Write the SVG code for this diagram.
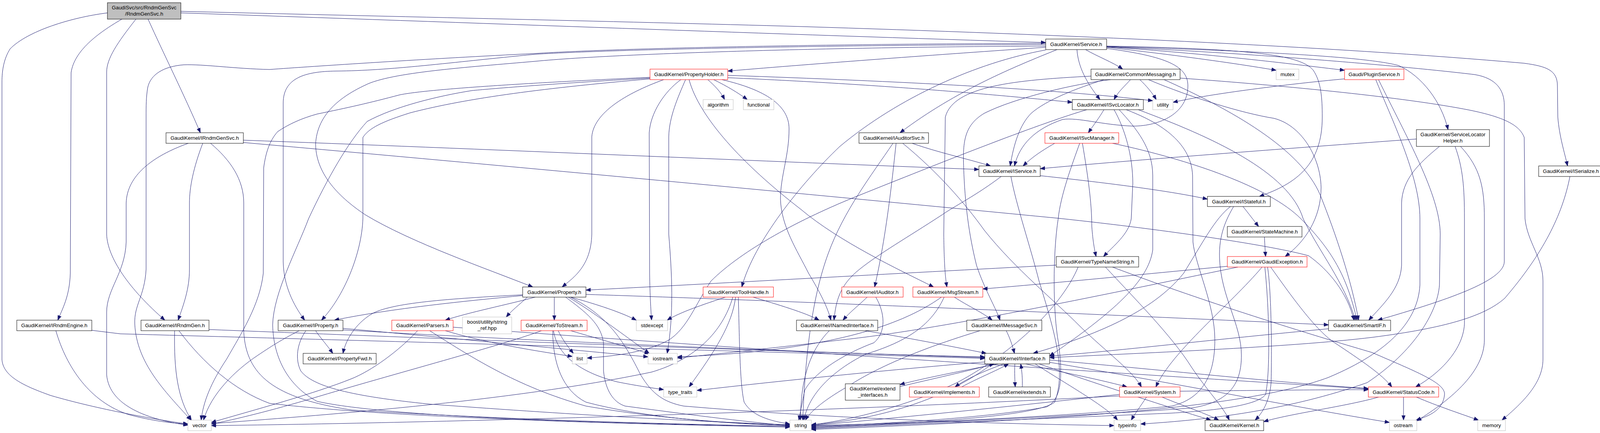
<svg xmlns="http://www.w3.org/2000/svg" width="4109" height="1109" viewBox="0 0 4109 1109">
<defs>
<style>
.e{fill:none;stroke:#191970;stroke-width:1;marker-end:url(#ah)}
.b{fill:#fff;stroke:#000;stroke-width:1}
.r{fill:#fff;stroke:#f00;stroke-width:1}
.s{fill:#fff;stroke:#bfbfbf;stroke-width:1}
.m{fill:#bfbfbf;stroke:#000;stroke-width:1}
text{font-family:"Liberation Sans",Arial,Helvetica,sans-serif;font-size:13.3px;text-anchor:middle;fill:#000}
</style>
<marker id="ah" viewBox="0 0 12 10" refX="12" refY="5" markerWidth="12" markerHeight="10" markerUnits="userSpaceOnUse" orient="auto">
<path d="M0,0.5 L12,5 L0,9.5 z" fill="#191970" stroke="#191970" stroke-width="1"/>
</marker>
</defs>
<rect width="4109" height="1109" fill="#fff"/>
<g id="edges">
<path class="e" d="M463,33 C1200,58 2000,88 2677,109"/>
<path class="e" d="M463,29 C900,40 1600,55 2050,68 C2700,88 3400,118 3902,162 C3960,170 3987,180 3987,220 L3988,300 C3992,350 4005,390 4013,425"/>
<path class="e" d="M275,33 C180,45 70,80 26,125 C10,150 5,180 5,210 L5,921 C8,960 50,985 130,1013 C250,1048 400,1075 481,1086"/>
<path class="e" d="M312,49 C250,85 190,130 182,186 L180,700 C178,760 160,790 148,820"/>
<path class="e" d="M348,49 C300,110 273,150 273,185 L273,600 C275,660 330,740 422,820"/>
<path class="e" d="M379,49 C420,140 470,240 513,340"/>
<path class="e" d="M482,367 C390,400 325,450 323,520 L323,620 C320,700 273,740 273,800 L273,960 C280,1040 380,1075 481,1089"/>
<path class="e" d="M519,367 C495,430 485,480 485,520 L485,690 C485,740 470,780 456,820"/>
<path class="e" d="M539,367 C590,410 624,460 624,520 L624,850 C630,960 700,1020 900,1050 C1300,1075 1700,1086 2022,1092"/>
<path class="e" d="M623,359 C1200,380 2000,415 2506,434"/>
<path class="e" d="M623,365 C1300,425 2100,500 2709,559 C3000,590 3260,630 3350,655 C3400,690 3450,750 3466,820"/>
<path class="e" d="M143,847 C170,940 230,1030 330,1062 C390,1078 440,1084 481,1086"/>
<path class="e" d="M235,846 L308,855 C1200,880 2100,905 2521,918"/>
<path class="e" d="M447,847 C445,950 455,1020 490,1076"/>
<path class="e" d="M458,847 C520,930 600,1000 690,1033 C1000,1070 1600,1086 2022,1094"/>
<path class="e" d="M535,844 C1200,870 2100,905 2521,914"/>
<path class="e" d="M2677,121 C2400,140 2100,162 1863,182"/>
<path class="e" d="M2677,118 C2200,120 1600,135 1370,157 C1200,172 1000,185 935,218 C860,253 812,300 808,368 C808,440 860,500 935,550 C1050,620 1250,690 1364,735"/>
<path class="e" d="M2677,114 C2200,115 1600,125 1370,139 C1150,160 1000,181 860,182 C780,183 725,200 725,264 L725,670 C726,730 750,780 780,820"/>
<path class="e" d="M2677,111 C2200,112 1600,122 1370,137 C1100,150 800,170 690,178 C600,176 520,164 470,166 C420,170 385,190 378,225 C374,250 374,270 374,300 L374,690 C370,760 343,780 345,830 C350,930 420,1000 489,1076"/>
<path class="e" d="M2779,127 C2810,145 2850,160 2874,177"/>
<path class="e" d="M2757,127 C2760,170 2780,210 2816,255"/>
<path class="e" d="M2833,121 C3000,140 3150,160 3267,180"/>
<path class="e" d="M2833,118 C3200,125 3330,140 3362,180 C3382,210 3385,250 3385,300 C3385,420 3320,470 3224,503"/>
<path class="e" d="M2833,124 C2990,145 3041,170 3041,220 C3041,290 2970,323 2900,323 C2820,320 2760,300 2720,306 C2650,330 2610,370 2597,425"/>
<path class="e" d="M2833,120 C3100,138 3300,163 3442,180"/>
<path class="e" d="M2833,119 C3200,130 3500,145 3581,168 C3640,195 3690,260 3707,332"/>
<path class="e" d="M2833,120 C3200,135 3600,170 3775,191 C3830,200 3851,230 3851,270 L3851,670 C3851,720 3700,770 3527,820"/>
<path class="e" d="M2706,127 C2600,170 2450,230 2304,340"/>
<path class="e" d="M2677,128 C2500,160 2300,250 2150,375 C2050,470 1930,620 1899,735"/>
<path class="e" d="M2894,204 C2880,220 2862,235 2852,255"/>
<path class="e" d="M2918,204 C2935,220 2950,238 2960,255"/>
<path class="e" d="M2793,195 C2600,205 2440,220 2420,300 L2416,600 C2417,680 2420,710 2424,735"/>
<path class="e" d="M2843,204 C2750,215 2600,250 2520,290 C2470,320 2464,360 2467,430 C2470,520 2480,600 2500,680 C2520,740 2550,790 2560,820"/>
<path class="e" d="M2826,204 C2760,225 2680,255 2640,290 C2610,320 2595,370 2586,425"/>
<path class="e" d="M3021,200 C3300,220 3600,250 3762,282 C3850,300 3890,320 3902,352 L3904,560 C3910,620 3950,660 3950,720 L3950,920 C3950,980 3900,1030 3845,1076"/>
<path class="e" d="M2940,204 C3050,250 3180,290 3261,303 C3330,320 3380,400 3382,480 C3382,560 3340,620 3290,657"/>
<path class="e" d="M2980,204 C3150,280 3330,380 3380,500 C3420,600 3460,720 3478,820"/>
<path class="e" d="M2826,281 C2815,300 2800,320 2786,340"/>
<path class="e" d="M2782,281 C2650,320 2400,420 2200,500 C2050,560 1900,640 1820,720 C1780,780 1760,840 1712,871 C1660,900 1580,912 1503,917"/>
<path class="e" d="M2852,281 C2880,330 2900,400 2900,470 L2896,560 C2890,600 2850,630 2825,657"/>
<path class="e" d="M2883,281 C2960,310 3050,360 3053,450 L3054,620 C3060,680 3110,780 3110,870 C3110,960 3080,1020 3000,1040 C2700,1070 2300,1085 2077,1090"/>
<path class="e" d="M2914,281 C3100,350 3300,440 3336,560 C3380,650 3440,720 3470,820"/>
<path class="e" d="M2865,281 C2910,330 2951,380 2951,450 L2951,640 C2940,720 2850,800 2687,912"/>
<path class="e" d="M2700,367 C2660,390 2640,405 2619,425"/>
<path class="e" d="M2771,367 C2785,450 2795,520 2795,580 C2798,620 2802,640 2806,657"/>
<path class="e" d="M2848,367 C3050,410 3250,480 3330,560 C3420,650 3450,720 3474,820"/>
<path class="e" d="M2764,367 C2745,420 2715,500 2709,560 C2695,650 2695,800 2710,880 C2720,960 2720,1020 2680,1042 C2500,1075 2200,1088 2077,1092"/>
<path class="e" d="M2335,367 C2400,390 2470,405 2536,425"/>
<path class="e" d="M2294,367 C2285,450 2270,600 2239,735"/>
<path class="e" d="M2286,367 C2230,450 2160,540 2120,650 C2080,760 2062,900 2055,1076"/>
<path class="e" d="M2311,367 C2400,440 2470,520 2520,590 C2600,690 2700,770 2764,835 C2830,900 2900,950 2922,991"/>
<path class="e" d="M2663,450 C2850,470 3000,490 3091,510"/>
<path class="e" d="M2563,452 C2500,500 2440,530 2412,550 C2320,610 2250,650 2200,690 C2150,730 2140,770 2135,820"/>
<path class="e" d="M2588,452 C2600,520 2640,640 2660,720 C2700,850 2730,950 2700,1030 C2650,1070 2300,1086 2077,1094"/>
<path class="e" d="M3182,529 C3195,545 3210,565 3222,580"/>
<path class="e" d="M3150,529 C3110,560 3080,620 3030,700 C2950,800 2800,860 2645,905"/>
<path class="e" d="M3158,529 C3140,560 3120,600 3122,660 C3125,760 3178,830 3178,910 C3178,980 3150,1030 3050,1045 C2700,1070 2300,1085 2077,1096"/>
<path class="e" d="M3237,607 C3238,630 3239,645 3240,657"/>
<path class="e" d="M2704,679 C2300,700 1800,728 1500,743"/>
<path class="e" d="M2830,684 C2900,760 3000,860 3050,940 C3090,1000 3130,1040 3147,1076"/>
<path class="e" d="M2848,684 C3100,780 3400,870 3513,903 C3620,950 3700,980 3698,1010 C3695,1050 3660,1065 3625,1076"/>
<path class="e" d="M2760,684 C2720,780 2600,900 2450,980 C2300,1050 2150,1080 2077,1088"/>
<path class="e" d="M3231,684 C3150,780 3000,900 2959,991"/>
<path class="e" d="M3245,684 C3255,750 3256,900 3254,980 C3250,1030 3230,1060 3213,1076"/>
<path class="e" d="M3253,684 C3300,750 3370,850 3420,880 C3480,920 3540,960 3563,991"/>
<path class="e" d="M3142,682 C2900,705 2700,725 2516,740"/>
<path class="e" d="M3169,684 C2800,760 2400,845 2150,871 C1950,895 1800,910 1734,917"/>
<path class="e" d="M3238,684 C3250,800 3252,950 3240,1010 C3220,1040 3100,1052 3000,1058 C2600,1075 2300,1088 2077,1098"/>
<path class="e" d="M1857,761 C1800,780 1740,800 1708,820"/>
<path class="e" d="M1883,761 C1875,830 1830,900 1764,991"/>
<path class="e" d="M1890,761 C1893,850 1893,980 1905,1030 C1925,1065 1970,1078 2022,1086"/>
<path class="e" d="M1928,761 C1990,780 2060,800 2097,820"/>
<path class="e" d="M1876,761 C1850,850 1780,920 1668,953 C1300,1030 800,1065 541,1085"/>
<path class="e" d="M1419,761 L1419,820"/>
<path class="e" d="M1370,761 C1300,780 1200,800 1140,820"/>
<path class="e" d="M1350,761 C1330,780 1310,795 1296,812"/>
<path class="e" d="M1338,757 C1200,770 1000,790 856,820"/>
<path class="e" d="M1338,755 C1150,765 1000,775 950,805 C910,830 885,870 878,905"/>
<path class="e" d="M1461,761 C1530,780 1590,800 1629,820"/>
<path class="e" d="M1455,761 C1520,800 1600,860 1662,905"/>
<path class="e" d="M1500,754 C2000,770 2700,800 3401,832"/>
<path class="e" d="M1448,761 C1500,800 1540,830 1545,880 L1545,950 C1550,1000 1570,1030 1600,1040 C1750,1060 1900,1080 2022,1090"/>
<path class="e" d="M1460,761 C1560,810 1600,880 1640,960 C1670,1010 1700,1030 1750,1040 C2100,1070 2500,1085 2852,1090"/>
<path class="e" d="M808,847 C820,865 838,885 852,905"/>
<path class="e" d="M766,847 C720,870 690,890 660,910 C600,950 540,1010 521,1076"/>
<path class="e" d="M783,847 C760,880 755,920 770,950 C800,990 900,1015 1100,1035 C1500,1065 1800,1080 2022,1088"/>
<path class="e" d="M878,845 C1300,870 2000,900 2521,916"/>
<path class="e" d="M878,841 C1200,870 1500,900 1659,914"/>
<path class="e" d="M1069,847 C1020,900 950,950 900,970 C800,1010 650,1050 541,1082"/>
<path class="e" d="M1140,847 C1250,880 1380,900 1465,913"/>
<path class="e" d="M1100,847 C1200,910 1320,990 1500,1040 C1700,1075 1900,1085 2022,1090"/>
<path class="e" d="M1160,838 C2000,900 3000,965 3503,996"/>
<path class="e" d="M1429,847 C1440,870 1455,890 1468,905"/>
<path class="e" d="M1461,847 C1540,870 1610,890 1662,906"/>
<path class="e" d="M1417,847 C1425,900 1470,950 1580,978 C1630,988 1660,992 1699,998"/>
<path class="e" d="M1415,847 C1415,930 1440,1000 1500,1030 C1650,1070 1850,1085 2022,1090"/>
<path class="e" d="M1386,847 C1300,880 1000,960 800,1020 C700,1050 600,1075 541,1086"/>
<path class="e" d="M2215,847 C2350,870 2450,890 2525,905"/>
<path class="e" d="M2123,847 C2080,890 2060,950 2053,1010 C2050,1040 2049,1060 2049,1076"/>
<path class="e" d="M2576,847 C2585,865 2592,885 2597,905"/>
<path class="e" d="M2509,847 C2400,880 2260,930 2170,990 C2100,1030 2070,1060 2062,1076"/>
<path class="e" d="M2443,761 C2480,785 2515,800 2540,820"/>
<path class="e" d="M2417,761 C2390,820 2340,870 2216,907 C2130,950 2070,1010 2058,1076"/>
<path class="e" d="M2410,761 C2300,840 2100,900 1734,914"/>
<path class="e" d="M2220,761 C2195,785 2175,800 2158,820"/>
<path class="e" d="M2242,761 C2265,800 2270,850 2237,878 C2150,910 2080,960 2060,1000 C2052,1040 2048,1060 2045,1076"/>
<path class="e" d="M2555,932 C2450,952 2350,972 2304,985"/>
<path class="e" d="M2304,990 C2380,972 2480,950 2545,932"/>
<path class="e" d="M2570,932 C2520,950 2470,972 2445,991"/>
<path class="e" d="M2462,991 C2500,970 2550,950 2582,932"/>
<path class="e" d="M2598,932 C2597,955 2598,975 2599,991"/>
<path class="e" d="M2617,991 C2618,970 2616,950 2613,932"/>
<path class="e" d="M2626,932 C2700,950 2800,968 2885,991"/>
<path class="e" d="M2660,932 C2800,980 2980,1040 3100,1076"/>
<path class="e" d="M2650,932 C2740,990 2830,1040 2861,1076"/>
<path class="e" d="M2687,928 C3000,980 3300,1040 3557,1082"/>
<path class="e" d="M2687,922 C3000,950 3300,982 3503,995"/>
<path class="e" d="M2540,932 C2450,1000 2300,1070 2077,1088"/>
<path class="e" d="M2521,927 C2300,945 2000,975 1784,1000"/>
<path class="e" d="M2935,1017 C2920,1040 2905,1060 2896,1076"/>
<path class="e" d="M2975,1017 C3030,1040 3090,1060 3120,1076"/>
<path class="e" d="M2866,1010 C2600,1040 2300,1070 2077,1090"/>
<path class="e" d="M2866,1014 C2000,1060 1000,1085 541,1090"/>
<path class="e" d="M3021,1002 C3200,1000 3400,998 3503,998"/>
<path class="e" d="M3593,1017 L3593,1076"/>
<path class="e" d="M3626,1017 C3680,1040 3740,1060 3785,1076"/>
<path class="e" d="M3529,1017 C3450,1040 3300,1060 3235,1080"/>
<path class="e" d="M3401,842 C3100,870 2850,900 2687,912"/>
<path class="e" d="M3626,356 C3300,380 2900,410 2663,432"/>
<path class="e" d="M3685,375 C3630,420 3590,460 3588,520 L3588,680 C3585,740 3540,780 3504,820"/>
<path class="e" d="M3725,375 C3745,430 3749,480 3749,560 L3749,830 C3745,900 3680,960 3624,991"/>
<path class="e" d="M3739,375 C3790,430 3800,480 3800,560 L3800,870 C3800,950 3720,1020 3627,1078"/>
<path class="e" d="M3442,202 C3300,215 3100,240 3003,262"/>
<path class="e" d="M3522,204 C3560,300 3635,450 3635,560 L3635,730 C3630,820 3560,900 3400,967 C3200,1040 2800,1072 2077,1100"/>
<path class="e" d="M3529,204 C3600,350 3687,500 3687,600 L3685,730 C3680,800 3620,900 3500,980 C3300,1050 3100,1075 2920,1086"/>
<path class="e" d="M4019,452 C4000,550 3950,650 3852,764 C3800,810 3700,840 3513,864 C3300,890 2900,905 2687,916"/>
<path class="e" d="M1812,204 C1830,220 1845,235 1855,255"/>
<path class="e" d="M1827,204 C1860,220 1890,238 1913,255"/>
<path class="e" d="M1743,204 C1700,235 1665,290 1662,340 L1663,700 C1664,760 1666,790 1668,820"/>
<path class="e" d="M1755,204 C1735,250 1713,300 1712,350 L1712,600 C1720,700 1726,800 1708,905"/>
<path class="e" d="M1764,204 C1790,300 1900,420 2050,536 C2150,620 2300,690 2390,735"/>
<path class="e" d="M1848,204 C1960,230 2020,270 2020,330 C2020,400 1998,450 1998,510 C2000,580 2040,640 2070,700 C2100,750 2120,790 2127,820"/>
<path class="e" d="M1699,204 C1600,240 1520,290 1515,350 L1515,600 C1513,680 1470,710 1439,735"/>
<path class="e" d="M1664,202 C1400,225 1200,250 1050,289 C980,311 944,328 929,352 L929,560 C926,650 880,760 823,820"/>
<path class="e" d="M1664,198 C1400,210 1100,227 1023,243 C944,264 890,276 812,292 C772,303 739,318 711,337 C690,360 680,392 675,430 L674,700 C665,780 620,850 580,920 C540,980 520,1030 515,1076"/>
<path class="e" d="M1664,200 C1400,215 1250,228 1208,232 C1120,246 1010,273 940,311 C891,364 838,457 790,560 C760,640 700,750 698,832 C700,920 740,990 812,1028 C1000,1070 1600,1086 2022,1092"/>
<path class="e" d="M1863,193 C2300,208 2700,228 2951,258"/>
<path class="e" d="M1863,199 C2300,218 2600,248 2745,262"/>
</g>
<g id="n_main"><rect class="m" x="275" y="7" width="188" height="42"/><text x="369" y="24.2">GaudiSvc/src/RndmGenSvc</text><text x="369" y="39.6">/RndmGenSvc.h</text></g>
<g id="n_service"><rect class="b" x="2677" y="100" width="156" height="27"/><text x="2755" y="118.1">GaudiKernel/Service.h</text></g>
<g id="n_propertyholder"><rect class="r" x="1664" y="177" width="199" height="27"/><text x="1763.5" y="195.1">GaudiKernel/PropertyHolder.h</text></g>
<g id="n_commonmessaging"><rect class="b" x="2793" y="177" width="228" height="27"/><text x="2907" y="195.1">GaudiKernel/CommonMessaging.h</text></g>
<g id="n_mutex"><rect class="s" x="3267" y="177" width="58" height="27"/><text x="3296" y="195.1">mutex</text></g>
<g id="n_pluginservice"><rect class="r" x="3442" y="177" width="152" height="27"/><text x="3518" y="195.1">Gaudi/PluginService.h</text></g>
<g id="n_algorithm"><rect class="s" x="1800" y="255" width="77" height="26"/><text x="1838.5" y="272.6">algorithm</text></g>
<g id="n_functional"><rect class="s" x="1903" y="255" width="78" height="26"/><text x="1942" y="272.6">functional</text></g>
<g id="n_isvclocator"><rect class="b" x="2745" y="255" width="182" height="26"/><text x="2836" y="272.6">GaudiKernel/ISvcLocator.h</text></g>
<g id="n_utility"><rect class="s" x="2951" y="255" width="52" height="26"/><text x="2977" y="272.6">utility</text></g>
<g id="n_servicelocatorhelper"><rect class="b" x="3626" y="332" width="187" height="43"/><text x="3719.5" y="349.1">GaudiKernel/ServiceLocator</text><text x="3719.5" y="365.2">Helper.h</text></g>
<g id="n_irndmgensvc"><rect class="b" x="425" y="340" width="198" height="27"/><text x="524" y="358.1">GaudiKernel/IRndmGenSvc.h</text></g>
<g id="n_iauditorsvc"><rect class="b" x="2199" y="340" width="178" height="27"/><text x="2288" y="358.1">GaudiKernel/IAuditorSvc.h</text></g>
<g id="n_isvcmanager"><rect class="r" x="2675" y="340" width="189" height="27"/><text x="2769.5" y="358.1">GaudiKernel/ISvcManager.h</text></g>
<g id="n_iservice"><rect class="b" x="2506" y="425" width="157" height="27"/><text x="2584.5" y="443.1">GaudiKernel/IService.h</text></g>
<g id="n_iserialize"><rect class="b" x="3939" y="425" width="165" height="27"/><text x="4021.5" y="443.1">GaudiKernel/ISerialize.h</text></g>
<g id="n_istateful"><rect class="b" x="3091" y="503" width="161" height="26"/><text x="3171.5" y="520.6">GaudiKernel/IStateful.h</text></g>
<g id="n_statemachine"><rect class="b" x="3142" y="580" width="191" height="27"/><text x="3237.5" y="598.1">GaudiKernel/StateMachine.h</text></g>
<g id="n_typenamestring"><rect class="b" x="2704" y="657" width="211" height="27"/><text x="2809.5" y="675.1">GaudiKernel/TypeNameString.h</text></g>
<g id="n_gaudiexception"><rect class="r" x="3142" y="657" width="204" height="27"/><text x="3244" y="675.1">GaudiKernel/GaudiException.h</text></g>
<g id="n_property"><rect class="b" x="1338" y="735" width="162" height="26"/><text x="1419" y="752.6">GaudiKernel/Property.h</text></g>
<g id="n_toolhandle"><rect class="r" x="1800" y="735" width="180" height="26"/><text x="1890" y="752.6">GaudiKernel/ToolHandle.h</text></g>
<g id="n_iauditor"><rect class="r" x="2155" y="735" width="157" height="26"/><text x="2233.5" y="752.6">GaudiKernel/IAuditor.h</text></g>
<g id="n_msgstream"><rect class="r" x="2337" y="735" width="179" height="26"/><text x="2426.5" y="752.6">GaudiKernel/MsgStream.h</text></g>
<g id="n_irndmengine"><rect class="b" x="43" y="820" width="192" height="27"/><text x="139" y="838.1">GaudiKernel/IRndmEngine.h</text></g>
<g id="n_irndmgen"><rect class="b" x="361" y="820" width="174" height="27"/><text x="448" y="838.1">GaudiKernel/IRndmGen.h</text></g>
<g id="n_iproperty"><rect class="b" x="712" y="820" width="166" height="27"/><text x="795" y="838.1">GaudiKernel/IProperty.h</text></g>
<g id="n_parsers"><rect class="r" x="1003" y="820" width="157" height="27"/><text x="1081.5" y="838.1">GaudiKernel/Parsers.h</text></g>
<g id="n_boost"><rect class="s" x="1184" y="812" width="126" height="43"/><text x="1247" y="829.1">boost/utility/string</text><text x="1247" y="845.2">_ref.hpp</text></g>
<g id="n_tostream"><rect class="r" x="1334" y="820" width="169" height="27"/><text x="1418.5" y="838.1">GaudiKernel/ToStream.h</text></g>
<g id="n_stdexcept"><rect class="s" x="1629" y="820" width="80" height="27"/><text x="1669" y="838.1">stdexcept</text></g>
<g id="n_inamedinterface"><rect class="b" x="2039" y="820" width="208" height="27"/><text x="2143" y="838.1">GaudiKernel/INamedInterface.h</text></g>
<g id="n_imessagesvc"><rect class="b" x="2475" y="820" width="192" height="27"/><text x="2571" y="838.1">GaudiKernel/IMessageSvc.h</text></g>
<g id="n_smartif"><rect class="b" x="3401" y="820" width="159" height="27"/><text x="3480.5" y="838.1">GaudiKernel/SmartIF.h</text></g>
<g id="n_propertyfwd"><rect class="b" x="776" y="905" width="187" height="27"/><text x="869.5" y="923.1">GaudiKernel/PropertyFwd.h</text></g>
<g id="n_list"><rect class="s" x="1465" y="905" width="38" height="27"/><text x="1484" y="923.1">list</text></g>
<g id="n_iostream"><rect class="s" x="1659" y="905" width="75" height="27"/><text x="1696.5" y="923.1">iostream</text></g>
<g id="n_iinterface"><rect class="b" x="2521" y="905" width="166" height="27"/><text x="2604" y="923.1">GaudiKernel/IInterface.h</text></g>
<g id="n_type_traits"><rect class="s" x="1699" y="991" width="85" height="26"/><text x="1741.5" y="1008.6">type_traits</text></g>
<g id="n_extend_interfaces"><rect class="b" x="2164" y="983" width="140" height="42"/><text x="2234" y="1000.2">GaudiKernel/extend</text><text x="2234" y="1016.3">_interfaces.h</text></g>
<g id="n_implements"><rect class="r" x="2328" y="991" width="179" height="26"/><text x="2417.5" y="1008.6">GaudiKernel/implements.h</text></g>
<g id="n_extends"><rect class="b" x="2531" y="991" width="158" height="26"/><text x="2610" y="1008.6">GaudiKernel/extends.h</text></g>
<g id="n_system"><rect class="r" x="2866" y="991" width="155" height="26"/><text x="2943.5" y="1008.6">GaudiKernel/System.h</text></g>
<g id="n_statuscode"><rect class="r" x="3503" y="991" width="180" height="26"/><text x="3593" y="1008.6">GaudiKernel/StatusCode.h</text></g>
<g id="n_vector"><rect class="s" x="481" y="1076" width="60" height="27"/><text x="511" y="1094.1">vector</text></g>
<g id="n_string"><rect class="s" x="2022" y="1076" width="55" height="27"/><text x="2049.5" y="1094.1">string</text></g>
<g id="n_typeinfo"><rect class="s" x="2852" y="1076" width="68" height="27"/><text x="2886" y="1094.1">typeinfo</text></g>
<g id="n_kernel"><rect class="b" x="3085" y="1076" width="150" height="27"/><text x="3160" y="1094.1">GaudiKernel/Kernel.h</text></g>
<g id="n_ostream"><rect class="s" x="3557" y="1076" width="70" height="27"/><text x="3592" y="1094.1">ostream</text></g>
<g id="n_memory"><rect class="s" x="3783" y="1076" width="71" height="27"/><text x="3818.5" y="1094.1">memory</text></g>
</svg>
